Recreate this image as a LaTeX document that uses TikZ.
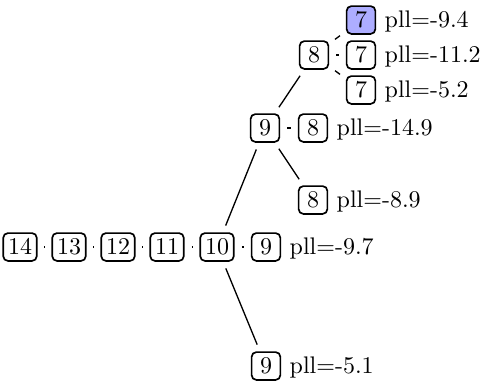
\documentclass[tikz,border=0pt]{standalone}
\begin{document}
\begin{tikzpicture}[x=0.4167pt,y=-0.4167pt,
  box/.style={draw,line width=0.7pt,rounded corners=2pt,inner xsep=2pt,inner ysep=2pt,
    minimum width=12pt,minimum height=11.6pt,text height=6.4pt,text depth=0pt},
  pl/.style={label={[text height=6.4pt,text depth=0pt]right:#1}},
  edge/.style={line width=0.55pt,shorten <=3pt,shorten >=3pt},
  hi/.style={fill=blue!32}]
\useasboundingbox (0,0) rectangle (486,382);
\node[box] (n14) at (20,247) {14};
\node[box] (n13) at (69,247) {13};
\node[box] (n12) at (118,247) {12};
\node[box] (n11) at (167,247) {11};
\node[box] (n10) at (217,247) {10};
\node[box,pl={pll=-9.7}] (a9) at (266,247) {9};
\node[box] (b9) at (265,128) {9};
\node[box,pl={pll=-14.9}] (b8) at (313,128) {8};
\node[box] (c8) at (314,55) {8};
\node[box,pl={pll=-8.9}] (h8) at (313,200) {8};
\node[box,pl={pll=-5.1}] (d9) at (266,366) {9};
\node[box,hi,pl={pll=-9.4}] (e7) at (361,20) {7};
\node[box,pl={pll=-11.2}] (f7) at (361,55) {7};
\node[box,pl={pll=-5.2}] (g7) at (361,90) {7};
\draw[edge] (n14) -- (n13);
\draw[edge] (n13) -- (n12);
\draw[edge] (n12) -- (n11);
\draw[edge] (n11) -- (n10);
\draw[edge] (n10) -- (a9);
\draw[edge] (n10) -- (b9);
\draw[edge] (n10) -- (d9);
\draw[edge] (b9) -- (b8);
\draw[edge] (b9) -- (c8);
\draw[edge] (b9) -- (h8);
\draw[edge] (c8) -- (e7);
\draw[edge] (c8) -- (f7);
\draw[edge] (c8) -- (g7);
\end{tikzpicture}
\end{document}
